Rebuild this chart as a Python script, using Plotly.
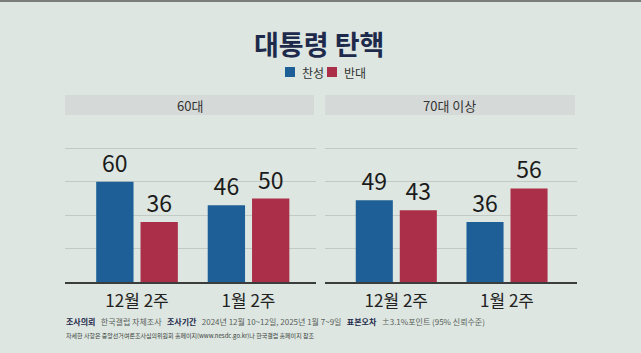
import plotly.graph_objects as go

# ---- data ----
title = "대통령 탄핵"
series_names = ["찬성", "반대"]
colors = ["#1d5f96", "#ab2f49"]
periods = ["12월 2주", "1월 2주"]
panels = ["60대", "70대 이상"]
values = {
    "60대": {"찬성": [60, 46], "반대": [36, 50]},
    "70대 이상": {"찬성": [49, 36], "반대": [43, 56]},
}
footer1 = ("<b>조사의뢰</b>   <span style='color:#5a5f5c'>한국갤럽 자체조사</span>   "
           "<b>조사기간</b>   <span style='color:#5a5f5c'>2024년 12월 10~12일, 2025년 1월 7~9일</span>   "
           "<b>표본오차</b>   <span style='color:#5a5f5c'>±3.1%포인트 (95% 신뢰수준)</span>")
footer2 = "자세한 사항은 중앙선거여론조사심의위원회 홈페이지(www.nesdc.go.kr)나 한국갤럽 홈페이지 참조"

W, H = 641, 353
FONT = "Noto Sans CJK KR"
BG = "#dde6e0"

def px(x):
    return x / W

def py(y):
    return 1 - y / H

fig = go.Figure()

xdomains = [(65, 316), (325, 577)]
xranges = [[-0.646, 1.605], [-0.644, 1.632]]

for i, panel in enumerate(panels):
    xa = "x" if i == 0 else "x2"
    ya = "y" if i == 0 else "y2"
    for s, name in enumerate(series_names):
        fig.add_trace(go.Bar(
            x=[0, 1], y=values[panel][name], name=name,
            marker=dict(color=colors[s], line=dict(width=0)),
            text=[str(v) for v in values[panel][name]],
            textposition="outside", cliponaxis=False,
            textfont=dict(family=FONT, size=23, color="#1b1b1b"),
            xaxis=xa, yaxis=ya, showlegend=False,
        ))

layout_axes = {}
for i in range(2):
    sfx = "" if i == 0 else "2"
    layout_axes["xaxis" + sfx] = dict(
        domain=[px(xdomains[i][0]), px(xdomains[i][1])],
        range=xranges[i], tickvals=[0, 1], ticktext=periods,
        showgrid=False, zeroline=False, showline=True, linecolor="#3a3d3c", linewidth=2,
        ticks="outside", ticklen=3, tickcolor="rgba(0,0,0,0)",
        tickfont=dict(family=FONT, size=17, color="#222222"),
        anchor="y" + sfx, fixedrange=True,
    )
    layout_axes["yaxis" + sfx] = dict(
        domain=[py(282), py(115)], range=[0, 100],
        tickvals=[20, 40, 60, 80], showticklabels=False,
        showgrid=True, gridcolor="#c3cac6", gridwidth=1,
        zeroline=False, showline=False,
        anchor="x" + sfx, fixedrange=True,
    )

shapes = []
annotations = []

# top dark strip
shapes.append(dict(type="rect", xref="paper", yref="paper", x0=0, x1=1, y0=py(2), y1=1,
                   fillcolor="#7a7d7b", line=dict(width=0), layer="below"))

# panel headers
for i, panel in enumerate(panels):
    x0, x1 = xdomains[i][0], xdomains[i][1] - 2
    shapes.append(dict(type="rect", xref="paper", yref="paper",
                       x0=px(x0), x1=px(x1), y0=py(115), y1=py(95),
                       fillcolor="#d5d9d7", line=dict(width=0), layer="below"))
    annotations.append(dict(text=panel, xref="paper", yref="paper",
                            x=px((x0 + x1) / 2), y=py(105), showarrow=False,
                            xanchor="center", yanchor="middle",
                            font=dict(family=FONT, size=13, color="#333333")))

# title
annotations.append(dict(text="<b>" + title + "</b>", xref="paper", yref="paper",
                        x=px(319), y=py(43), showarrow=False, xanchor="center", yanchor="middle",
                        font=dict(family=FONT, size=27, color="#1d2a4c")))

# legend (manual)
leg = [(285, 300), (327, 342)]
for s, name in enumerate(series_names):
    sx, tx = leg[s]
    shapes.append(dict(type="rect", xref="paper", yref="paper",
                       x0=px(sx), x1=px(sx + 10), y0=py(77), y1=py(67),
                       fillcolor=colors[s], line=dict(width=0)))
    annotations.append(dict(text=name, xref="paper", yref="paper",
                            x=px(tx), y=py(72), showarrow=False, xanchor="left", yanchor="middle",
                            font=dict(family=FONT, size=12, color="#333333")))

# footer
annotations.append(dict(text=footer1, xref="paper", yref="paper",
                        x=px(64), y=py(321), showarrow=False, xanchor="left", yanchor="middle",
                        font=dict(family=FONT, size=8, color="#1d2a4c")))
annotations.append(dict(text=footer2, xref="paper", yref="paper",
                        x=px(64), y=py(335), showarrow=False, xanchor="left", yanchor="middle",
                        font=dict(family=FONT, size=6, color="#3a3f3c")))

fig.update_layout(
    width=W, height=H, margin=dict(l=0, r=0, t=0, b=0),
    paper_bgcolor=BG, plot_bgcolor=BG,
    barmode="group", bargap=0.205, bargroupgap=0.158,
    showlegend=False, shapes=shapes, annotations=annotations,
    **layout_axes,
)

fig.write_html("out.html", config={"displayModeBar": False})
